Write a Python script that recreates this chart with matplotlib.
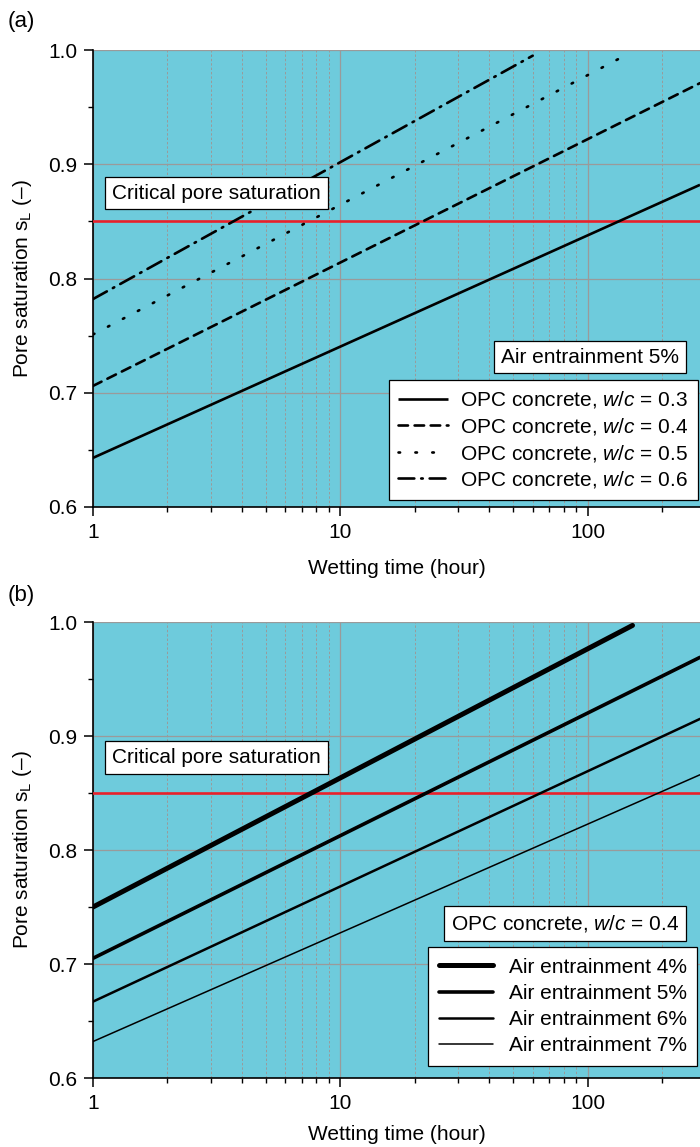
import matplotlib
matplotlib.use("Agg")
import matplotlib.pyplot as plt
from matplotlib.ticker import LogLocator, FixedLocator, NullFormatter

plt.rcParams['font.family'] = ['Liberation Sans', 'DejaVu Sans']
plt.rcParams['mathtext.fontset'] = 'custom'
plt.rcParams['mathtext.rm'] = 'Liberation Sans'
plt.rcParams['mathtext.it'] = 'Liberation Sans:italic'
plt.rcParams['font.size'] = 15

# ---- data ----
critical_saturation = 0.85
wc_values = ['0.3', '0.4', '0.5', '0.6']
a_time = [[1, 285], [1, 285], [1, 133], [1, 60]]
a_sat = [[0.643, 0.882], [0.706, 0.971], [0.751, 0.992], [0.782, 0.995]]

air_values = ['4%', '5%', '6%', '7%']
b_time = [[1, 152], [1, 285], [1, 285], [1, 285]]
b_sat = [[0.750, 0.997], [0.705, 0.969], [0.667, 0.915], [0.632, 0.866]]

x_ticks = [1, 10, 100]
x_ticklabels = ['1', '10', '100']
y_ticks = [0.6, 0.7, 0.8, 0.9, 1.0]
y_ticklabels = ['0.6', '0.7', '0.8', '0.9', '1.0']

BG = '#6ecbdc'
RED = '#e8212b'
GRID = '#9a9a9a'

fig = plt.figure(figsize=(7.0, 11.47), dpi=100)
W, H = 700, 1147
left = 93 / W
axA = fig.add_axes([left, 1 - 507 / H, 1 - left, (507 - 50) / H])
axB = fig.add_axes([left, 1 - 1078 / H, 1 - left, (1078 - 622) / H])

BOX = dict(boxstyle='square,pad=0.33', fc='white', ec='black', lw=0.9)


def style(ax, crit_y, xpad):
    ax.set_facecolor(BG)
    ax.set_xscale('log')
    ax.set_xlim(1, 285)
    ax.set_ylim(0.6, 1.0)
    ax.xaxis.set_major_locator(FixedLocator(x_ticks))
    ax.set_xticklabels(x_ticklabels)
    ax.xaxis.set_minor_locator(LogLocator(base=10, subs=range(2, 10)))
    ax.xaxis.set_minor_formatter(NullFormatter())
    ax.yaxis.set_major_locator(FixedLocator(y_ticks))
    ax.set_yticklabels(y_ticklabels)
    ax.yaxis.set_minor_locator(FixedLocator([0.65, 0.75, 0.85, 0.95]))
    for s in ['top', 'right']:
        ax.spines[s].set_visible(False)
    for s in ['left', 'bottom']:
        ax.spines[s].set_linewidth(1.2)
    ax.tick_params(which='major', direction='out', length=6.5, width=1.1, pad=5)
    ax.tick_params(which='minor', direction='out', length=3.5, width=1.0)
    ax.tick_params(top=False, right=False)
    ax.grid(True, which='major', axis='both', color=GRID, lw=0.9)
    ax.grid(True, which='minor', axis='x', color=GRID, lw=0.7, ls=(0, (2.5, 2)))
    ax.set_axisbelow(True)
    ax.axhline(critical_saturation, color=RED, lw=1.9, zorder=3)
    ax.set_xlabel('Wetting time (hour)', labelpad=xpad)
    ax.set_ylabel(r'Pore saturation $\mathregular{s_L}$ (–)')
    ax.yaxis.set_label_coords(-0.098, 0.5)
    ax.text(0.2035, crit_y, 'Critical pore saturation', transform=ax.transAxes,
            ha='center', va='center', zorder=5, bbox=BOX)


style(axA, 0.687, 12)
style(axB, 0.703, 9)

# panel a
a_styles = ['-', (0, (3.6, 2.5)), (0, (0.6, 5.8)), (0, (6, 2.6, 0.6, 2.6))]
for t, s, st, wc in zip(a_time, a_sat, a_styles, wc_values):
    axA.plot(t, s, color='black', lw=1.9, ls=st, dash_capstyle='round',
             solid_capstyle='butt', label=rf'OPC concrete, $w/c$ = {wc}', zorder=4)
legA = axA.legend(loc='upper right', bbox_to_anchor=(0.9967, 0.278), frameon=True,
                  fancybox=False, edgecolor='black', framealpha=1, borderpad=0.45,
                  labelspacing=0.27, handlelength=2.4, handletextpad=0.6,
                  borderaxespad=0)
legA.get_frame().set_linewidth(0.9)
axA.text(0.819, 0.328, 'Air entrainment 5%', transform=axA.transAxes,
         ha='center', va='center', zorder=5, bbox=BOX)

# panel b
b_widths = [3.6, 2.6, 1.8, 1.1]
for t, s, lw, a in zip(b_time, b_sat, b_widths, air_values):
    axB.plot(t, s, color='black', lw=lw, solid_capstyle='round',
             label=f'Air entrainment {a}', zorder=4)
legB = axB.legend(loc='upper right', bbox_to_anchor=(0.995, 0.287), frameon=True,
                  fancybox=False, edgecolor='black', framealpha=1, borderpad=0.5,
                  labelspacing=0.35, handlelength=2.6, handletextpad=0.75,
                  borderaxespad=0)
legB.get_frame().set_linewidth(0.9)
axB.text(0.778, 0.339, r'OPC concrete, $w/c$ = 0.4', transform=axB.transAxes,
         ha='center', va='center', zorder=5, bbox=BOX)

fig.text(8 / W, 1 - 22 / H, '(a)', ha='left', va='center', fontsize=16)
fig.text(8 / W, 1 - 595 / H, '(b)', ha='left', va='center', fontsize=16)

fig.savefig('out.png', dpi=100)
